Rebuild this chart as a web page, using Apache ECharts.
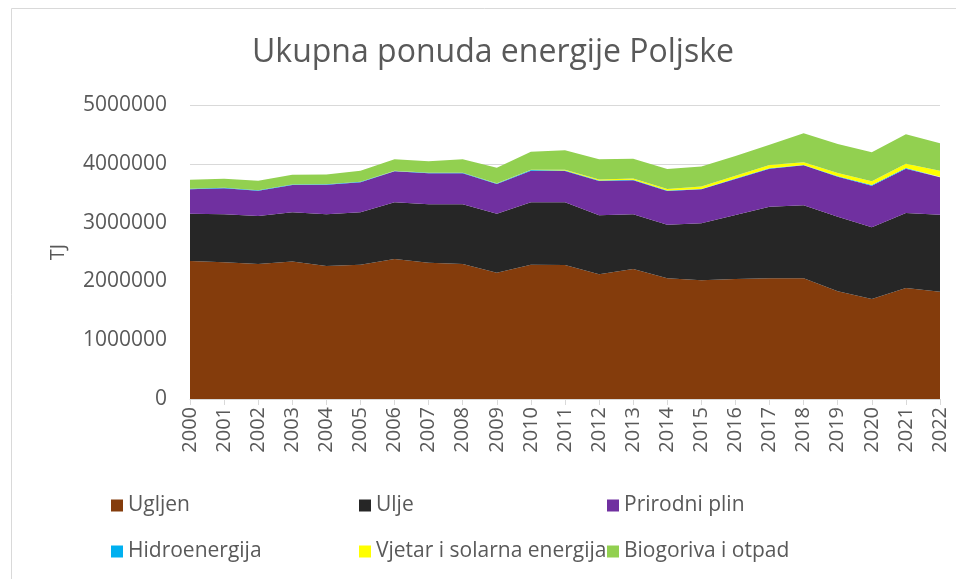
<!DOCTYPE html>
<html><head><meta charset="utf-8">
<script src="https://cdn.jsdelivr.net/npm/echarts@6/dist/echarts.min.js"></script>
<style>html,body{margin:0;padding:0;background:#fff}#c{width:956px;height:579px}</style>
</head><body><div id="c"></div>
<script>
const years = ['2000','2001','2002','2003','2004','2005','2006','2007','2008','2009','2010','2011','2012','2013','2014','2015','2016','2017','2018','2019','2020','2021','2022'];
const ugljen = [2347000,2325000,2296000,2340000,2262000,2284000,2381000,2318000,2296000,2148000,2284000,2278000,2120000,2211000,2052000,2018000,2041000,2052000,2052000,1831000,1701000,1888000,1825000];
const ulje = [805000,816000,816000,835000,879000,891000,964000,993000,1015000,1004000,1061000,1067000,1004000,930000,913000,969000,1088000,1218000,1242000,1270000,1219000,1275000,1310000];
const prirodniPlin = [414000,442000,431000,464000,504000,510000,527000,527000,527000,504000,538000,533000,583000,578000,572000,579000,612000,647000,680000,680000,708000,754000,635000];
const hidro = [8000,8000,8000,7000,7500,8000,7400,8400,7800,8400,10500,8300,7300,8700,7900,6600,7800,9100,7100,7000,10600,9600,7800];
const vjetarSolar = [200,500,500,500,500,600,900,2000,3000,4000,6000,11000,17000,22000,28000,40000,46000,54000,46000,55000,64000,73000,102000];
const biogoriva = [156000,156000,161000,167000,167000,189000,195000,194000,227000,266000,304000,332000,344000,338000,339000,343000,338000,346000,491000,493000,495000,504000,469000];
const yTicks = [0,1000000,2000000,3000000,4000000,5000000];

const names = ['Ugljen','Ulje','Prirodni plin','Hidroenergija','Vjetar i solarna energija','Biogoriva i otpad'];
const colors = ['#843C0C','#262626','#7030A0','#00B0F0','#FFFF00','#92D050'];
const datas = [ugljen, ulje, prirodniPlin, hidro, vjetarSolar, biogoriva];

const font = '"Open Sans", "Liberation Sans", sans-serif';
const legendPos = [[106,490],[354,490],[602,490],[106,536],[354,536],[602,536]];

const chart = echarts.init(document.getElementById('c'), null, {renderer:'canvas'});
chart.setOption({
  animation:false,
  backgroundColor:'#fff',
  color: colors,
  graphic:[{type:'rect', left:9, top:6, shape:{width:1000, height:700}, style:{fill:'none', stroke:'#d9d9d9', lineWidth:1}, silent:true}],
  title:{text:'Ukupna ponuda energije Poljske', left:247, top:32, textStyle:{fontFamily:font, fontSize:32, fontWeight:'normal', color:'#595959'}},
  legend: names.map((n,i)=>({data:[n], left:legendPos[i][0], top:legendPos[i][1], icon:'rect', itemWidth:12, itemHeight:12, itemGap:5, selectedMode:false, textStyle:{fontFamily:font, fontSize:21, color:'#595959'}})),
  grid:{left:190, right:16, top:105, bottom:180, containLabel:false},
  xAxis:{type:'category', data:years, boundaryGap:false,
    axisLine:{lineStyle:{color:'#d9d9d9'}},
    axisTick:{show:true, length:6, lineStyle:{color:'#d9d9d9'}},
    axisLabel:{rotate:90, fontFamily:font, fontSize:20, color:'#595959', margin:8, interval:0},
    splitLine:{show:false}},
  yAxis:{type:'value', min:yTicks[0], max:yTicks[yTicks.length-1], interval:yTicks[1]-yTicks[0],
    name:'TJ', nameLocation:'middle', nameGap:122, nameRotate:90,
    nameTextStyle:{fontFamily:font, fontSize:20, color:'#595959'},
    axisLine:{show:false}, axisTick:{show:false},
    axisLabel:{fontFamily:font, fontSize:21, color:'#595959', margin:23, formatter:v=>String(v)},
    splitLine:{lineStyle:{color:'#d9d9d9', width:1}}},
  series: names.map((n,i)=>({name:n, type:'line', stack:'total', data:datas[i], symbol:'none',
    lineStyle:{width:0}, areaStyle:{color:colors[i], opacity:1}, itemStyle:{color:colors[i]}}))
});
</script></body></html>
